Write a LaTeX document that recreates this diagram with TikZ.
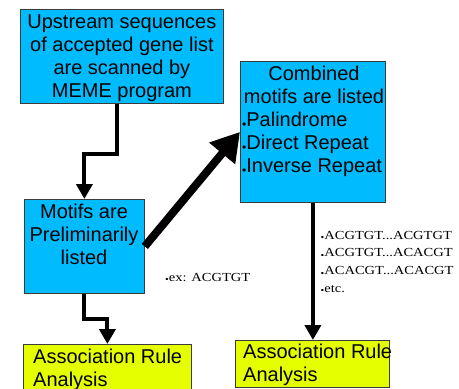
\documentclass[tikz,border=0pt]{standalone}
\usepackage{fontspec}
\setmainfont{Liberation Sans}
\newfontfamily\seqfont[FakeStretch=1.18]{Liberation Serif}
\usetikzlibrary{arrows.meta,calc}
\definecolor{boxblue}{RGB}{0,188,255}
\definecolor{boxyellow}{RGB}{230,255,0}
\definecolor{edgegray}{RGB}{60,60,60}
\newcommand{\bigdot}{\raisebox{-2pt}{\fontsize{12}{12}\selectfont •}}
\newcommand{\smalldot}{\raisebox{-1.5pt}{\fontsize{9}{9}\selectfont •}}
\tikzset{
  cbox/.style={draw=edgegray, line width=0.8pt, fill=boxblue, inner sep=0pt, anchor=north west},
  ybox/.style={draw=edgegray, line width=0.8pt, fill=boxyellow, inner sep=0pt, anchor=north west},
  boxtext/.style={inner sep=0pt, font=\fontsize{20}{23}\selectfont},
  seqtext/.style={inner sep=0pt, font=\seqfont\fontsize{12.3}{17.7}\selectfont, align=left},
  elbow/.style={line width=4pt, line join=miter, -{Triangle[width=16pt,length=15pt]}},
  bigarrow/.style={line width=8pt, -{Triangle[width=32pt,length=28pt]}},
}
\begin{document}
\begin{tikzpicture}[x=1pt,y=1pt]
\useasboundingbox (0,0) rectangle (459,-389);
\fill[white] (0,0) rectangle (459,-389);
\clip (0,0) rectangle (459,-389);
% boxes
\node[cbox, minimum width=203pt, minimum height=94pt] (b1) at (20,-9) {};
\node[cbox, minimum width=120pt, minimum height=94pt] (b2) at (24,-199) {};
\node[cbox, minimum width=145pt, minimum height=141pt] (b4) at (240,-61) {};
\node[ybox, minimum width=168pt, minimum height=60pt] (b3) at (23,-344) {};
\node[ybox, minimum width=154pt, minimum height=47pt] (b5) at (235,-340) {};
% box texts
\node[boxtext, align=center] (t1) at ([yshift=-1.5pt]b1.center) {Upstream sequences\\of accepted gene list\\are scanned by\\MEME program};
\node[boxtext, align=center, anchor=north] (t2) at (84,-203.5) {Motifs are\\Preliminarily\\listed};
\node[boxtext, align=center, anchor=north] (t4a) at (314,-65.5) {Combined\\motifs are listed};
\node[boxtext, align=left, anchor=north west] (t4b) at (242,-111.5) {\bigdot Palindrome\\\bigdot Direct Repeat\\\bigdot Inverse Repeat};
\node[boxtext, align=left, anchor=north west] (t3) at (33,-348.5) {Association Rule\\Analysis};
\node[boxtext, align=left, anchor=north west] (t5) at (243,-343.5) {Association Rule\\Analysis};
% sequence notes
\node[seqtext, anchor=base west] (s1) at (165,-281) {\smalldot ex: ACGTGT};
\node[seqtext, anchor=north west] (s2) at (320.5,-230.8) {\smalldot ACGTGT...ACGTGT\\\smalldot ACGTGT...ACACGT\\\smalldot ACACGT...ACACGT\\\smalldot etc.};
% connectors
\draw[elbow] ([xshift=-4.5pt]b1.south) -- ++(0,-50) -| (b2.north);
\draw[elbow] (b2.south) -- ++(0,-25) -| (b3.north);
\draw[bigarrow] (b2.east) -- (b4.west);
\draw[elbow] (b4.south) -- (b4.south |- b5.north);
\end{tikzpicture}
\end{document}
